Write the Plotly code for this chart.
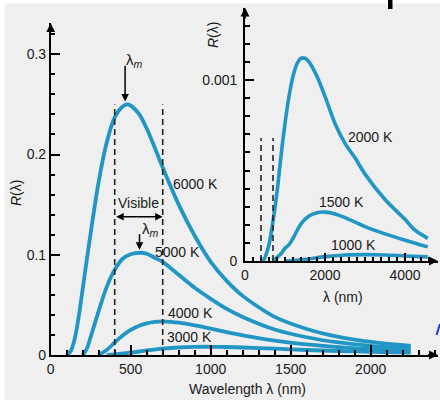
import plotly.graph_objects as go

# ---------------- data ----------------
lam6000 = [100, 125, 150, 175, 200, 250, 300, 350, 400, 450, 485, 550, 600, 650, 700,
           800, 900, 1000, 1100, 1200, 1400, 1600, 1800, 2000, 2250]
r6000 = [0.0, 0.004, 0.016, 0.038, 0.066, 0.122, 0.173, 0.212, 0.237, 0.248, 0.250, 0.241,
         0.226, 0.207, 0.187, 0.150, 0.119, 0.093, 0.074, 0.059, 0.038, 0.026, 0.018, 0.013, 0.009]

lam5000 = [200, 225, 250, 300, 350, 400, 450, 500, 560, 600, 650, 700, 800, 900, 1000,
           1100, 1200, 1400, 1600, 1800, 2000, 2250]
r5000 = [0.0, 0.006, 0.018, 0.044, 0.068, 0.085, 0.096, 0.1005, 0.102, 0.101, 0.097, 0.093,
         0.080, 0.067, 0.056, 0.046, 0.038, 0.0255, 0.0177, 0.0125, 0.0091, 0.0063]

lam4000 = [300, 350, 400, 450, 500, 550, 600, 650, 700, 750, 800, 900, 1000, 1100, 1200,
           1400, 1600, 1800, 2000, 2250]
r4000 = [0.0, 0.005, 0.0125, 0.0195, 0.025, 0.029, 0.0315, 0.033, 0.0335, 0.033, 0.0322,
         0.0296, 0.0264, 0.0229, 0.0197, 0.0144, 0.0105, 0.0078, 0.0058, 0.0041]

lam3000 = [350, 400, 500, 600, 700, 800, 900, 1000, 1100, 1200, 1400, 1600, 1800, 2000, 2250]
r3000 = [0.0, 0.0007, 0.0024, 0.0045, 0.0063, 0.0075, 0.0081, 0.0082, 0.0080, 0.0075,
         0.0063, 0.0050, 0.0040, 0.0031, 0.0023]

lam2000 = [450, 500, 600, 700, 800, 900, 1000, 1100, 1200, 1300, 1400, 1500, 1600, 1800,
           2000, 2250, 2500, 2750, 3000, 3500, 4000, 4250, 4570]
r2000 = [0.0, 0.00002, 0.00009, 0.00022, 0.00038, 0.00058, 0.00076, 0.00091, 0.00102,
         0.00109, 0.00112, 0.00112, 0.00110, 0.00102, 0.00091, 0.00076, 0.00065, 0.00057,
         0.00048, 0.00034, 0.00023, 0.00017, 0.000125]

lam1500 = [700, 800, 900, 1000, 1100, 1200, 1400, 1600, 1800, 2000, 2250, 2500, 3000,
           3500, 4000, 4570]
r1500 = [0.0, 0.00002, 0.00004, 0.00007, 0.00009, 0.000125, 0.000205, 0.000248, 0.000267,
         0.00027, 0.00026, 0.00024, 0.00019, 0.00015, 0.000115, 0.000078]

lam1000 = [1000, 1200, 1500, 2000, 2500, 3000, 3500, 4000, 4570]
r1000 = [0.0, 0.0000025, 0.000009, 0.000024, 0.000033, 0.000035, 0.000033, 0.000028, 0.000023]

visible_band = [400, 700]          # nm
main_xtick_step = 500
main_ytick_step = 0.1
inset_xtick_step = 2000
inset_ytick_step = 0.001

# ---------------- styling ----------------
W, H = 440, 400
BG = "#efefef"
BLUE = "#2196c4"
FONT = "Liberation Sans, Arial, sans-serif"
TXT = "#1a1a1a"


def P(px, py):
    return px / W, 1 - py / H


fig = go.Figure()

main_series = [(lam6000, r6000), (lam5000, r5000), (lam4000, r4000), (lam3000, r3000)]
for lx, ry in main_series:
    fig.add_trace(go.Scatter(x=lx, y=ry, mode="lines", xaxis="x", yaxis="y",
                             line=dict(color=BLUE, width=3.8, shape="spline", smoothing=0.8),
                             hoverinfo="skip", showlegend=False))

inset_series = [(lam2000, r2000), (lam1500, r1500), (lam1000, r1000)]
for lx, ry in inset_series:
    fig.add_trace(go.Scatter(x=lx, y=ry, mode="lines", xaxis="x2", yaxis="y2",
                             line=dict(color=BLUE, width=3.6, shape="spline", smoothing=0.8),
                             hoverinfo="skip", showlegend=False))

tickfont = dict(family=FONT, size=14, color=TXT)

# main axes: x px = 50.7 + 0.16*lam ; y px = 355 - 1002.3*R
mx0, mx1 = 0, 2420
my0, my1 = 0, 0.331
ix0, ix1 = 0, 4820
iy0, iy1 = 0, 0.0014

xd = [(50.7 + 0.16 * mx0) / W, (50.7 + 0.16 * mx1) / W]
yd = [1 - (355 - 1002.3 * my0) / H, 1 - (355 - 1002.3 * my1) / H]
x2d = [(245 + 0.04 * ix0) / W, (245 + 0.04 * ix1) / W]
y2d = [1 - (261 - 181000 * iy0) / H, 1 - (261 - 181000 * iy1) / H]

axcommon = dict(showgrid=False, zeroline=False, showline=True, linecolor="black",
                linewidth=1.6, ticks="inside",
                tickcolor="black", tickwidth=1.5, tickfont=tickfont, fixedrange=True,
                tickmode="linear", tick0=0)

fig.update_layout(
    width=W, height=H, margin=dict(l=0, r=0, t=0, b=0, autoexpand=False),
    paper_bgcolor=BG, plot_bgcolor="rgba(0,0,0,0)",
    xaxis=dict(domain=xd, range=[mx0, mx1], dtick=main_xtick_step,
               tickformat="d", ticklen=10, ticklabelstandoff=0,
               minor=dict(ticks="inside", dtick=100, tick0=0, ticklen=5,
                          tickcolor="black", tickwidth=1.5),
               anchor="y", **axcommon),
    yaxis=dict(domain=yd, range=[my0, my1], dtick=main_ytick_step,
               ticklen=9, ticklabelstandoff=0,
               minor=dict(ticks="inside", dtick=0.02, tick0=0, ticklen=4,
                          tickcolor="black", tickwidth=1.5),
               anchor="x", **axcommon),
    xaxis2=dict(domain=x2d, range=[ix0, ix1], dtick=inset_xtick_step,
                tickformat="d", ticklen=8, ticklabelstandoff=0,
                minor=dict(ticks="inside", dtick=200, tick0=0, ticklen=4,
                           tickcolor="black", tickwidth=1.5),
                anchor="y2", **axcommon),
    yaxis2=dict(domain=y2d, range=[iy0, iy1], dtick=inset_ytick_step,
                ticklen=9, ticklabelstandoff=3,
                minor=dict(ticks="inside", dtick=0.0001, tick0=0, ticklen=5,
                           tickcolor="black", tickwidth=1.5),
                anchor="x2", **axcommon),
)

shapes = []
# white scan border (top / left) and crop artifacts
shapes.append(dict(type="rect", xref="paper", yref="paper", x0=0, x1=1, y0=P(0, 3.5)[1], y1=1,
                   fillcolor="white", line=dict(width=0), layer="below"))
shapes.append(dict(type="rect", xref="paper", yref="paper", x0=0, x1=4.5 / W, y0=0, y1=1,
                   fillcolor="white", line=dict(width=0), layer="below"))
shapes.append(dict(type="rect", xref="paper", yref="paper", x0=388 / W, x1=392.5 / W,
                   y0=P(0, 9)[1], y1=1, fillcolor="black", line=dict(width=0)))
shapes.append(dict(type="line", xref="paper", yref="paper", x0=436.5 / W, y0=P(0, 335)[1],
                   x1=440 / W, y1=P(0, 324)[1], line=dict(color="#1a3fd0", width=2)))

# visible band dashed lines
for v in visible_band:
    shapes.append(dict(type="line", xref="x", yref="y", x0=v, x1=v, y0=0, y1=0.25,
                       line=dict(color="#222", width=1.6, dash="6px,4px")))
    shapes.append(dict(type="line", xref="x2", yref="y2", x0=v, x1=v, y0=0, y1=0.00068,
                       line=dict(color="#222", width=1.6, dash="6px,4px")))
fig.update_layout(shapes=shapes)

ann = []


def arrow(x, y, ax, ay, xref, yref, width=1.6, head=2, size=1.1, side="end"):
    ann.append(dict(x=x, y=y, ax=ax, ay=ay, xref=xref, yref=yref, axref=xref, ayref=yref,
                    text="", showarrow=True, arrowhead=head, arrowsize=size,
                    arrowwidth=width, arrowcolor="black", arrowside=side,
                    standoff=0, startstandoff=0))


# axis arrow heads
arrow(mx1, 0, mx1 * 0.97, 0, "x", "y")
arrow(0, my1, 0, my1 * 0.97, "x", "y")
arrow(ix1, 0, ix1 * 0.97, 0, "x2", "y2")
arrow(0, iy1, 0, iy1 * 0.95, "x2", "y2")
# lambda_m arrows
arrow(465, 0.253, 465, 0.29, "x", "y", width=1.5, size=1.0)
arrow(555, 0.105, 555, 0.122, "x", "y", width=1.5, size=1.0)
# visible double arrow
arrow(700, 0.138, 400, 0.138, "x", "y", width=1.5, size=1.0, side="end+start")


def label(px, py, text, size=14, angle=0):
    x, y = P(px, py)
    ann.append(dict(x=x, y=y, xref="paper", yref="paper", text=text, showarrow=False,
                    xanchor="center", yanchor="middle", textangle=angle,
                    font=dict(family=FONT, size=size, color=TXT)))


label(195, 184, "6000 K")
label(177, 252, "5000 K")
label(190, 313, "4000 K")
label(189, 337, "3000 K")
label(138, 203, "Visible")
label(134, 60, "λ<sub><i>m</i></sub>", size=15)
label(150, 229, "λ<sub><i>m</i></sub>", size=15)
label(247, 389, "Wavelength λ (nm)")
label(16, 193, "<i>R</i>(λ)", angle=-90)
label(370, 137, "2000 K")
label(341, 202, "1500 K")
label(353, 245, "1000 K")
label(343, 297, "λ (nm)")
label(213, 35, "<i>R</i>(λ)", angle=-90)

fig.update_layout(annotations=ann)

fig.write_html("out.html", config={"displayModeBar": False},
               post_script="document.body.style.margin='0px';"
                           "document.body.style.overflow='hidden';")
